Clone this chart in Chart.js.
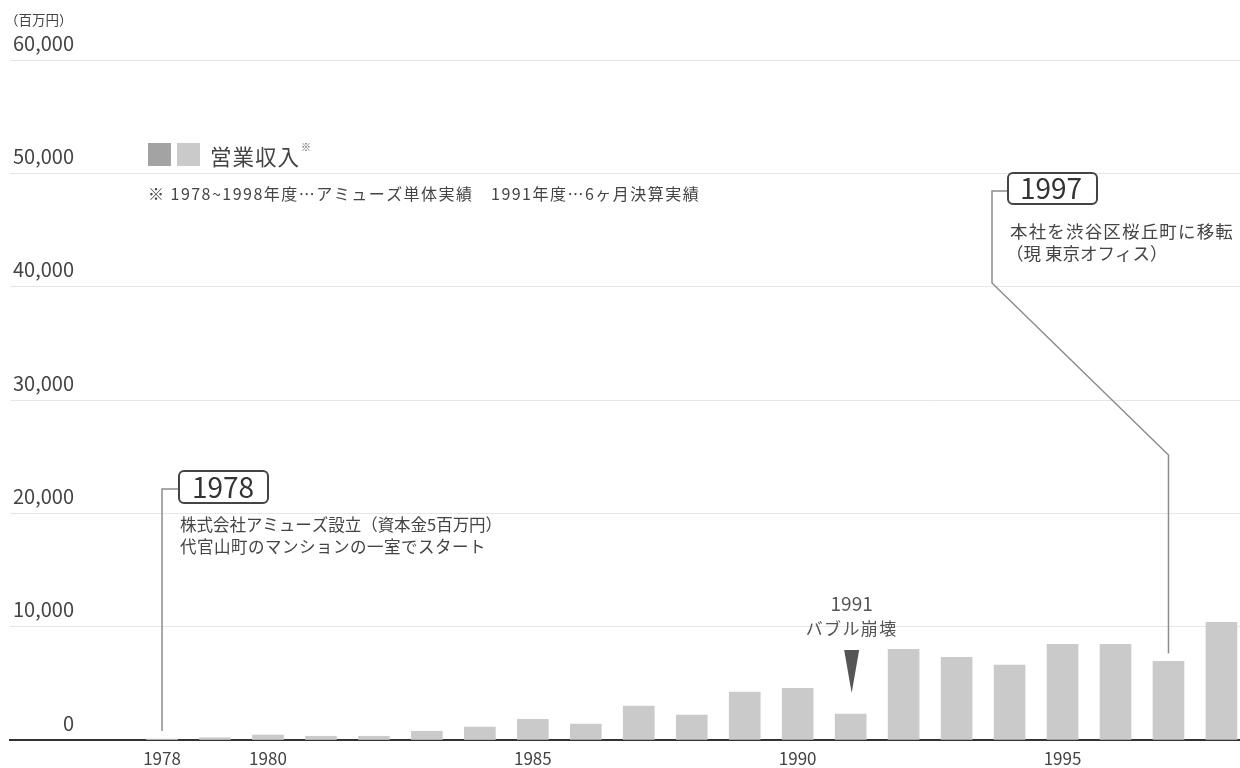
<!DOCTYPE html>
<html lang="ja">
<head>
<meta charset="utf-8">
<script src="https://cdn.jsdelivr.net/npm/chart.js@4.4.1/dist/chart.umd.min.js"></script>
<style>
  html, body { margin: 0; padding: 0; background: #fff; }
  #wrap { width: 1240px; height: 768px; }
</style>
</head>
<body>
<div id="wrap"><canvas id="revenueChart" width="1240" height="768"></canvas></div>
<script>
// data (百万円)
const YEARS = [1978, 1979, 1980, 1981, 1982, 1983, 1984, 1985, 1986, 1987, 1988,
               1989, 1990, 1991, 1992, 1993, 1994, 1995, 1996, 1997, 1998];
const REVENUE = [80, 200, 440, 330, 330, 770, 1140, 1820, 1410, 2990, 2200,
                 4220, 4570, 2290, 8000, 7300, 6600, 8440, 8440, 6950, 10380];
const X_TICKS = [1978, 1980, 1985, 1990, 1995];
const Y_TICKS = [0, 10000, 20000, 30000, 40000, 50000, 60000];

const FONT = '"Noto Sans CJK JP", "Noto Sans", sans-serif';
const BAR = '#c9cac9';
const TEXT = '#444';

Chart.defaults.font.family = FONT;

// draw a line of text, optionally stretched to a given width with letter spacing
function label(ctx, s, x, y, size, opts = {}) {
    ctx.save();
    ctx.font = `${opts.weight || 'normal'} ${size}px ${FONT}`;
    ctx.fillStyle = opts.color || TEXT;
    ctx.textBaseline = 'middle';
    ctx.textAlign = opts.align || 'left';
    if (opts.width && 'letterSpacing' in ctx) {
        const w = ctx.measureText(s).width;
        const n = [...s].length;
        ctx.letterSpacing = ((opts.width - w) / n).toFixed(2) + 'px';
    }
    ctx.fillText(s, x, y);
    ctx.restore();
}

function box(ctx, x, y, w, h, r) {
    ctx.save();
    ctx.strokeStyle = '#444';
    ctx.lineWidth = 2;
    ctx.beginPath();
    ctx.roundRect(x, y, w, h, r);
    ctx.stroke();
    ctx.restore();
}

function polyline(ctx, pts) {
    ctx.save();
    ctx.strokeStyle = '#8c8c8c';
    ctx.lineWidth = 1.5;
    ctx.beginPath();
    pts.forEach(([px, py], i) => i ? ctx.lineTo(px, py) : ctx.moveTo(px, py));
    ctx.stroke();
    ctx.restore();
}

const notes = {
    id: 'notes',
    afterDraw(chart) {
        const ctx = chart.ctx;
        const xs = chart.scales.x, ys = chart.scales.y;
        const barTop = yr => ys.getPixelForValue(REVENUE[YEARS.indexOf(yr)]);

        // unit
        label(ctx, '（百万円）', 5, 20, 13.5);

        // legend
        ctx.fillStyle = '#a3a3a3';
        ctx.fillRect(148, 143, 23, 23);
        ctx.fillStyle = BAR;
        ctx.fillRect(177, 143, 23, 23);
        label(ctx, '営業収入', 210, 157, 21.5, { width: 90 });
        label(ctx, '※', 301, 147, 10);
        label(ctx, '※ 1978~1998年度…アミューズ単体実績　1991年度…6ヶ月決算実績', 148, 193.5, 16, { width: 552 });

        // 1978
        const x78 = xs.getPixelForValue(1978);
        polyline(ctx, [[x78, barTop(1978) - 8], [x78, 489], [179, 489]]);
        box(ctx, 179, 471, 89, 32, 5);
        label(ctx, '1978', 223, 487, 28, { align: 'center', color: '#333' });
        label(ctx, '株式会社アミューズ設立（資本金5百万円）', 180, 525, 16.5, { width: 322 });
        label(ctx, '代官山町のマンションの一室でスタート', 180, 547, 16.5, { width: 306 });

        // 1991
        const x91 = xs.getPixelForValue(1991);
        label(ctx, '1991', x91 + 1, 604, 19, { align: 'center', color: '#555' });
        label(ctx, 'バブル崩壊', x91 + 1, 629, 17, { align: 'center', color: '#555', width: 92 });
        ctx.save();
        ctx.fillStyle = '#555';
        ctx.beginPath();
        ctx.moveTo(x91 - 6.5, 650);
        ctx.lineTo(x91 + 8.5, 650);
        ctx.lineTo(x91 + 1, 693);
        ctx.closePath();
        ctx.fill();
        ctx.restore();

        // 1997
        const x97 = xs.getPixelForValue(1997);
        polyline(ctx, [[x97, barTop(1997) - 8], [x97, 455], [992, 283], [992, 191], [1008, 191]]);
        box(ctx, 1008, 173, 89, 31, 5);
        label(ctx, '1997', 1051, 188, 28, { align: 'center', color: '#333' });
        label(ctx, '本社を渋谷区桜丘町に移転', 1010, 231, 17.5, { width: 224 });
        label(ctx, '（現 東京オフィス）', 1006, 253, 17.5);
    }
};

new Chart(document.getElementById('revenueChart'), {
    type: 'bar',
    data: {
        datasets: [{
            label: '営業収入',
            data: YEARS.map((y, i) => ({ x: y, y: REVENUE[i] })),
            backgroundColor: BAR,
            barThickness: 31
        }]
    },
    options: {
        responsive: false,
        animation: false,
        layout: { padding: { left: 10, right: 0, top: 60, bottom: 0 } },
        plugins: {
            legend: { display: false },
            tooltip: { enabled: false }
        },
        scales: {
            x: {
                type: 'linear',
                offset: false,
                min: 1975.13,
                max: 1998.35,
                afterBuildTicks: s => { s.ticks = X_TICKS.map(v => ({ value: v })); },
                afterFit: s => { s.height = 28; },
                grid: { display: false, drawTicks: false },
                border: { display: true, color: '#333', width: 2 },
                ticks: {
                    autoSkip: false,
                    maxRotation: 0,
                    padding: 8,
                    color: TEXT,
                    font: { size: 17 },
                    callback: v => String(v)
                }
            },
            y: {
                min: 0,
                max: 60000,
                afterBuildTicks: s => { s.ticks = Y_TICKS.map(v => ({ value: v })); },
                afterFit: s => { s.width = 0; },
                grid: { color: '#e6e6e6', lineWidth: 1, drawTicks: false },
                border: { display: false },
                ticks: {
                    mirror: true,
                    crossAlign: 'far',
                    padding: 3,
                    labelOffset: -17,
                    color: TEXT,
                    font: { size: 20 },
                    callback: v => v.toLocaleString('en-US')
                }
            }
        }
    },
    plugins: [notes]
});
</script>
</body>
</html>
